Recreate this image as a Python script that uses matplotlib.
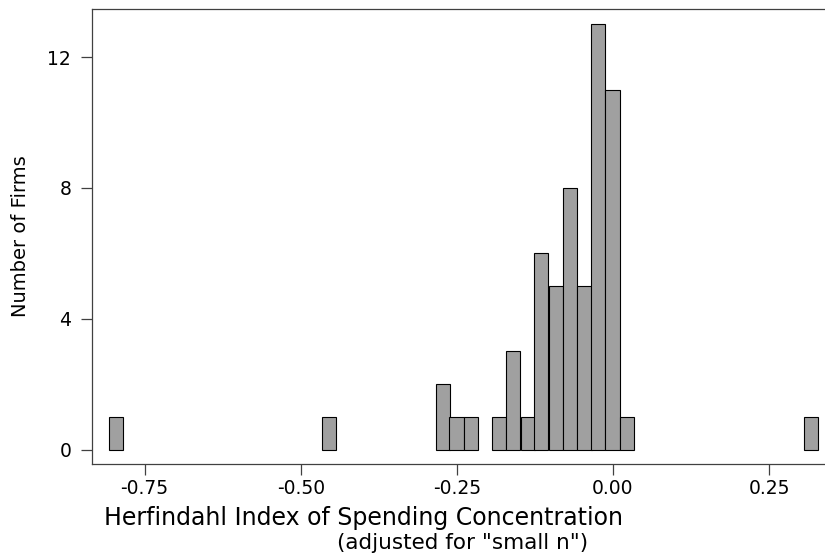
import matplotlib
matplotlib.use('Agg')
import matplotlib.pyplot as plt

# histogram of the adjusted Herfindahl index (left edge of each bin, number of firms)
bin_width = 0.0227
bin_left = [-0.807, -0.466, -0.284, -0.262, -0.239, -0.194, -0.171, -0.148,
            -0.126, -0.103, -0.080, -0.057, -0.035, -0.012, 0.011, 0.306]
firms = [1, 1, 2, 1, 1, 1, 3, 1, 6, 5, 8, 5, 13, 11, 1, 1]

x_ticks = [-0.75, -0.50, -0.25, 0.00, 0.25]
y_ticks = [0, 4, 8, 12]

plt.rcParams['axes.unicode_minus'] = False

fig = plt.figure(figsize=(8.25, 5.59), dpi=100)
ax = fig.add_axes([0.1115, 0.170, 0.8885, 0.8139])

ax.bar(bin_left, firms, width=bin_width, align='edge',
       color='#a0a0a0', edgecolor='black', linewidth=0.8)

ax.set_xlim(-0.8343, 0.3395)
ax.set_ylim(-0.44, 13.47)
ax.set_xticks(x_ticks)
ax.set_xticklabels(['%.2f' % t for t in x_ticks])
ax.set_yticks(y_ticks)

#================ оси и подписи =======================
for s in ['left', 'top', 'bottom']:
    ax.spines[s].set_color('#404040')
    ax.spines[s].set_linewidth(0.9)
ax.spines['right'].set_visible(False)
ax.tick_params(axis='x', length=8, width=0.9, color='#404040', pad=3, labelsize=13.5)
ax.tick_params(axis='y', length=8, width=0.9, color='#404040', pad=7, labelsize=13.5)

ax.set_ylabel('Number of Firms', fontsize=14)
ax.yaxis.set_label_coords(-0.085, 0.5)

# две строки подписи оси x
fig.text(363 / 825, (559 - 525) / 559, 'Herfindahl Index of Spending Concentration',
         ha='center', va='baseline', fontsize=17)
fig.text(463 / 825, (559 - 549) / 559, '(adjusted for "small n")',
         ha='center', va='baseline', fontsize=15.5)

fig.savefig('out.png', dpi=100)
